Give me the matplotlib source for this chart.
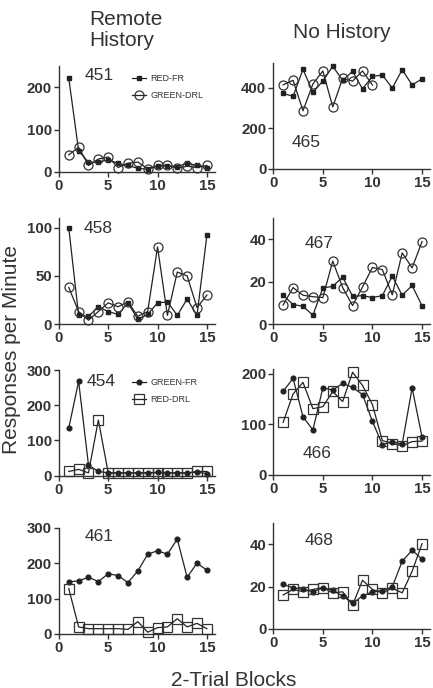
import numpy as np
import matplotlib
matplotlib.use("Agg")
import matplotlib.pyplot as plt

plt.rcParams['font.family'] = ['Liberation Sans', 'DejaVu Sans']

blocks = np.arange(1, 16)

# Remote History (left column)
fr_451 = [222, 50, 22, 23, 28, 20, 15, 8, 6, 13, 14, 12, 20, 15, 10]
drl_451 = [40, 58, 15, 30, 35, 10, 20, 23, 7, 15, 15, 8, 13, 10, 15]
fr_458 = [100, 9, 8, 18, 13, 10, 22, 5, 10, 22, 23, 9, 26, 9, 92]
drl_458 = [38, 13, 4, 13, 22, 18, 23, 8, 13, 80, 9, 54, 50, 17, 30]
fr_454 = [135, 268, 30, 12, 8, 8, 8, 8, 8, 10, 8, 8, 8, 10, 6]
drl_454 = [12, 18, 8, 158, 8, 8, 8, 8, 8, 8, 8, 8, 8, 12, 12]
fr_461 = [147, 150, 160, 148, 170, 165, 145, 178, 225, 235, 225, 268, 160, 200, 180]
drl_461 = [128, 20, 15, 15, 15, 15, 13, 35, 5, 18, 20, 43, 20, 30, 15]

# No History (right column)
fr_465 = [372, 357, 490, 377, 432, 505, 436, 480, 394, 455, 462, 398, 488, 413, 443]
drl_465 = [414, 436, 286, 418, 482, 305, 446, 432, 482, 413]
fr_467 = [13.6, 9.2, 8.4, 4.2, 17, 17.8, 22.2, 13.1, 13.4, 12.5, 13.4, 22.6, 13.6, 18.2, 8.6]
drl_467 = [9, 17.2, 13.6, 12.9, 12.5, 29.7, 17.2, 8.7, 17.5, 26.7, 25.7, 13.8, 33.6, 26.5, 38.9]
fr_466 = [165, 191, 115, 89, 172, 168, 181, 173, 159, 106, 60, 66, 61, 172, 75]
drl_466 = [104, 160, 183, 131, 135, 165, 145, 203, 177, 139, 68, 62, 58, 66, 67]
fr_468 = [21, 19.4, 18.7, 17.5, 19.4, 18.2, 15.5, 12, 15.5, 17.5, 18.1, 19.8, 32, 37.2, 33]
drl_468 = [16, 18.6, 17.6, 18.6, 19.5, 16.9, 17.5, 11.2, 23, 18.6, 17, 19.2, 17, 27.2, 40.3]

ink = '#333333'

# (subject, fr, drl, ylim, yticks, fr marker, drl marker, rect, label pos)
panels = [
    ('451', fr_451, drl_451, 250, [0, 100, 200], 's', 'o', [0.136, 0.7504, 0.360, 0.1533], (0.26, 0.91)),
    ('465', fr_465, drl_465, 520, [0, 200, 400], 's', 'o', [0.631, 0.7544, 0.362, 0.1537], (0.21, 0.25)),
    ('458', fr_458, drl_458, 110, [0, 50, 100], 's', 'o', [0.136, 0.529, 0.360, 0.154], (0.25, 0.90)),
    ('467', fr_467, drl_467, 50, [0, 20, 40], 's', 'o', [0.631, 0.529, 0.362, 0.154], (0.29, 0.76)),
    ('454', fr_454, drl_454, 300, [0, 100, 200, 300], 'o', 's', [0.136, 0.3086, 0.360, 0.1536], (0.27, 0.89)),
    ('466', fr_466, drl_466, 210, [0, 100, 200], 'o', 's', [0.631, 0.3096, 0.362, 0.1545], (0.28, 0.20)),
    ('461', fr_461, drl_461, 300, [0, 100, 200, 300], 'o', 's', [0.136, 0.0785, 0.360, 0.1545], (0.26, 0.92)),
    ('468', fr_468, drl_468, 50, [0, 20, 40], 'o', 's', [0.631, 0.0862, 0.362, 0.1533], (0.29, 0.84)),
]

fig = plt.figure(figsize=(4.33, 6.88), dpi=100)

for name, fr, drl, ytop, yt, mfr, mdrl, rect, lab in panels:
    ax = fig.add_axes(rect)
    # filled marker series (FR)
    ax.plot(blocks[:len(fr)], fr, color='#222222', lw=0.9, marker=mfr,
            markersize=3.2 if mfr == 's' else 3.4, mfc='#222222', mec='#222222',
            clip_on=False, zorder=3)
    # open marker series (DRL)
    ax.plot(blocks[:len(drl)], drl, color='#222222', lw=0.9, marker=mdrl,
            markersize=6.5, mfc='none', mec='#333333', mew=0.9,
            clip_on=False, zorder=4)
    ax.set_xlim(0, 15.8)
    ax.set_ylim(0, ytop)
    ax.set_xticks([0, 5, 10, 15])
    ax.set_yticks(yt)
    for s in ['top', 'right']:
        ax.spines[s].set_visible(False)
    for s in ['left', 'bottom']:
        ax.spines[s].set_color(ink)
        ax.spines[s].set_linewidth(1.0)
    ax.tick_params(direction='out', length=3.5, width=1.0, color=ink,
                   labelsize=10.8, labelcolor=ink, pad=1.5)
    for t in ax.get_xticklabels() + ax.get_yticklabels():
        t.set_fontweight('bold')
    ax.text(lab[0], lab[1], name, transform=ax.transAxes, fontsize=12.5,
            color=ink, ha='center', va='center')

    if name == '451':
        ax.legend(['RED-FR', 'GREEN-DRL'], loc='upper left',
                  bbox_to_anchor=(0.44, 0.97), frameon=False, fontsize=6.5,
                  handlelength=1.6, handletextpad=0.4, labelspacing=0.9,
                  borderpad=0, labelcolor=ink)
    if name == '454':
        ax.legend(['GREEN-FR', 'RED-DRL'], loc='upper left',
                  bbox_to_anchor=(0.44, 0.97), frameon=False, fontsize=6.5,
                  handlelength=1.6, handletextpad=0.4, labelspacing=0.9,
                  borderpad=0, labelcolor=ink)

fig.text(89 / 433, 1 - 30 / 688, 'Remote\nHistory', fontsize=15, color=ink,
         ha='left', va='center', linespacing=1.15)
fig.text(342 / 433, 1 - 33 / 688, 'No History', fontsize=15, color=ink,
         ha='center', va='center')
fig.text(12 / 433, 1 - 350 / 688, 'Responses per Minute', fontsize=15, color=ink,
         ha='center', va='center', rotation=90)
fig.text(234 / 433, 1 - 680 / 688, '2-Trial Blocks', fontsize=15, color=ink,
         ha='center', va='center')

fig.savefig('out.png', dpi=100)
